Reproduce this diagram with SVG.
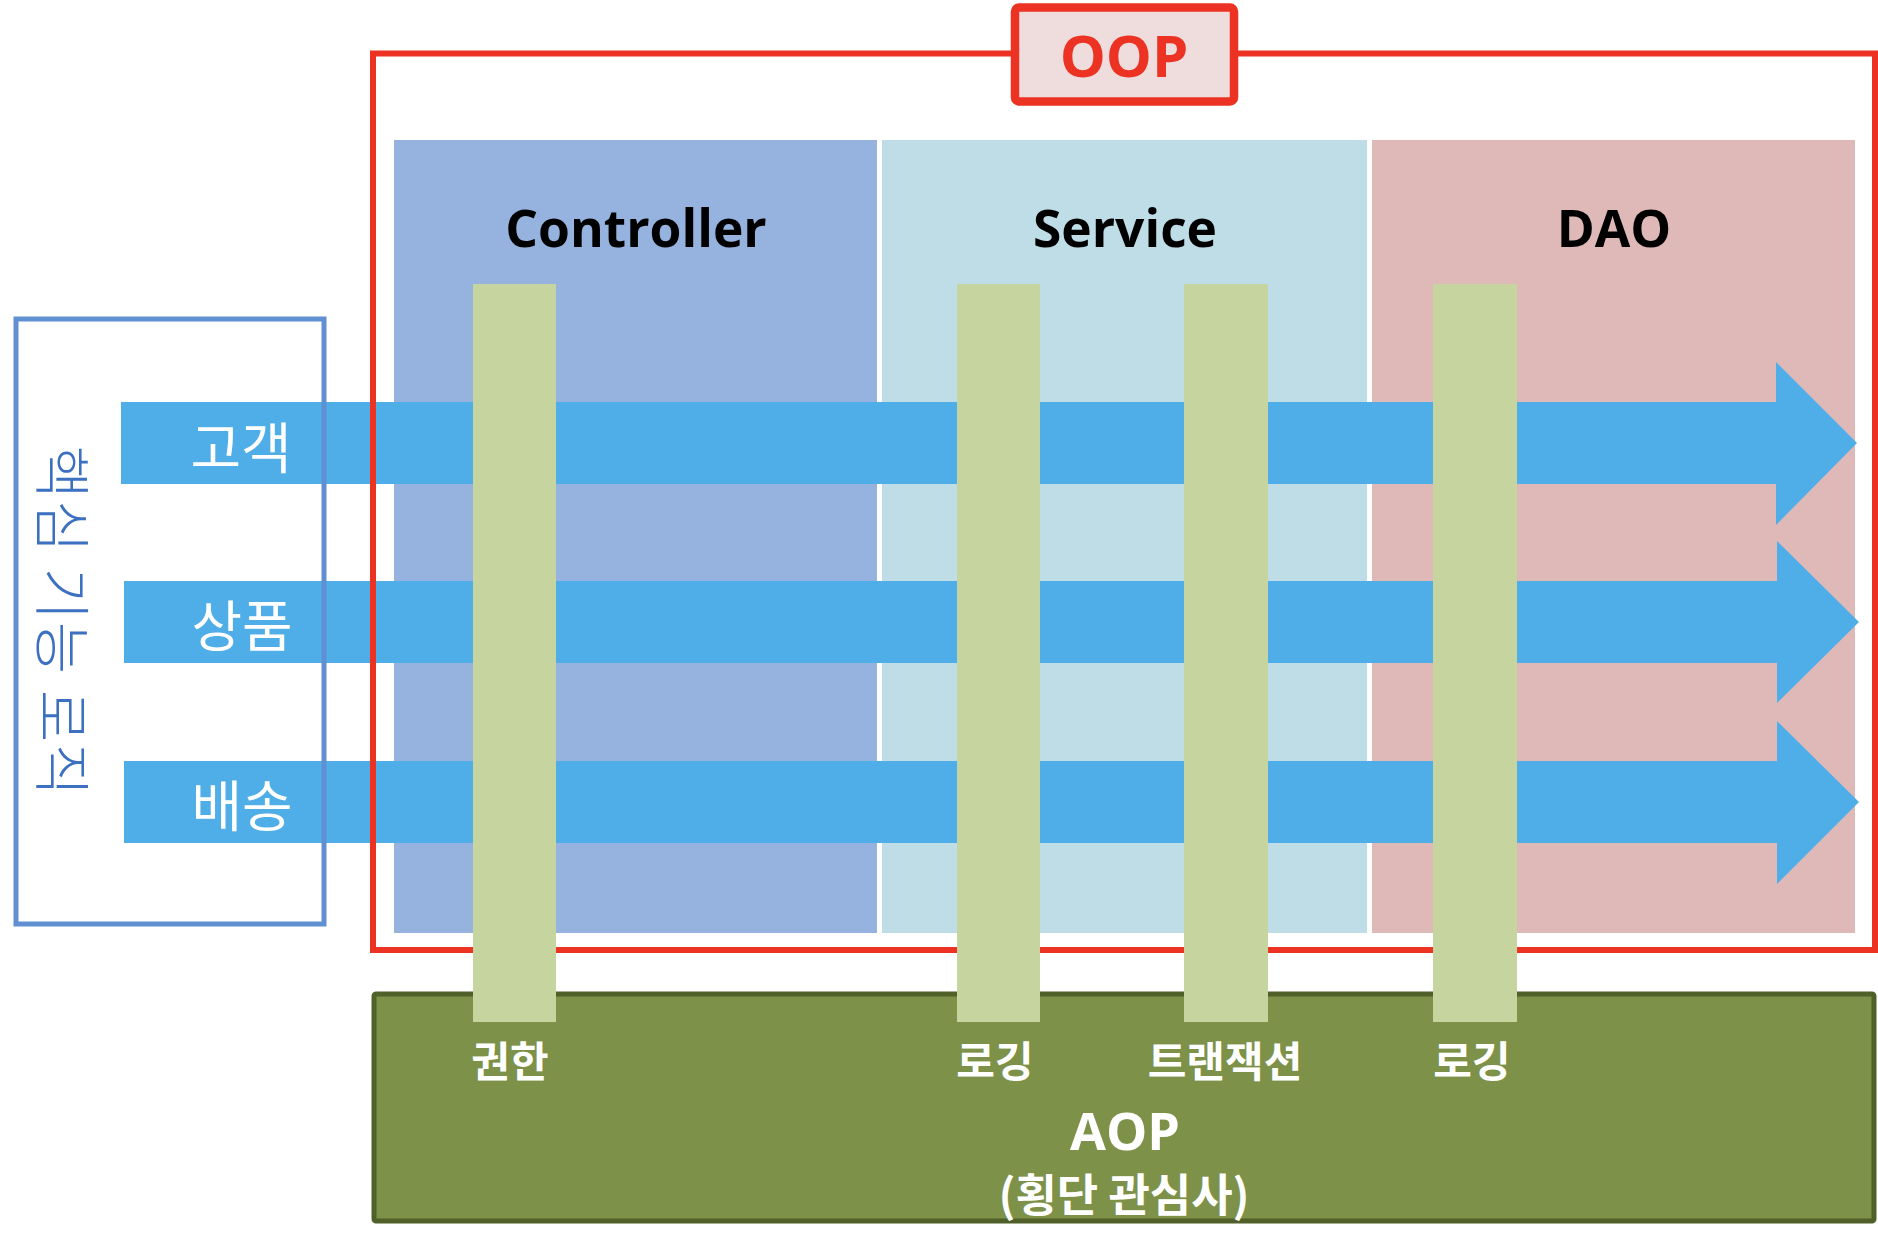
<svg xmlns="http://www.w3.org/2000/svg" width="1878" height="1238" viewBox="0 0 1878 1238">
<style>
.title{font-family:"Open Sans","Liberation Sans",sans-serif;font-weight:700;font-size:51.5px;fill:#000;text-anchor:middle}
.flowlbl{font-family:"Noto Sans CJK KR",sans-serif;font-weight:400;font-size:55px;fill:#fff;text-anchor:middle;dominant-baseline:central}
.barlbl{font-family:"Noto Sans CJK KR",sans-serif;font-weight:700;font-size:42px;fill:#fff;text-anchor:middle;dominant-baseline:central}
.bar{fill:#C6D5A0}
.flow{fill:#4FADE8}
</style>
<rect width="1878" height="1238" fill="#fff"/>
<g id="panel-controller"><rect x="394" y="140" width="483" height="793" fill="#95B3DE"/><text class="title" x="636" y="247">Controller</text></g>
<g id="panel-service"><rect x="882" y="140" width="485" height="793" fill="#BFDDE7"/><text class="title" x="1125" y="247">Service</text></g>
<g id="panel-dao"><rect x="1372" y="140" width="483" height="793" fill="#DFB9B8"/><text class="title" x="1614" y="247">DAO</text></g>
<g id="connectors">
<polygon class="flow" points="121,402 1776,402 1776,362 1857,443 1776,525 1776,484 121,484"/>
<polygon class="flow" points="124,581 1777,581 1777,541 1859,622 1777,703 1777,663 124,663"/>
<polygon class="flow" points="124,761 1777,761 1777,721 1859,802 1777,884 1777,843 124,843"/>
</g>
<g id="oop">
<rect x="373" y="53.5" width="1502" height="896.5" fill="none" stroke="#EC3323" stroke-width="6"/>
<rect x="1015" y="7.5" width="219" height="94" rx="4" fill="#EFDCDD" stroke="#EC3323" stroke-width="8.5"/>
<text x="1124" y="77" font-family="Open Sans, Liberation Sans, sans-serif" font-weight="700" font-size="58" fill="#EC3323" text-anchor="middle">OOP</text>
</g>
<g id="core-logic">
<rect x="16" y="319" width="308" height="605" fill="none" stroke="#6190D2" stroke-width="5"/>
<text transform="translate(66,621) rotate(90)" x="0" y="0" font-family="Noto Sans CJK KR, sans-serif" font-weight="300" font-size="57" fill="#3C70C0" text-anchor="middle" dominant-baseline="central" textLength="350" lengthAdjust="spacing">핵심 기능 로직</text>
</g>
<g id="flow-labels">
<text class="flowlbl" x="241" y="444">고객</text>
<text class="flowlbl" x="242" y="622">상품</text>
<text class="flowlbl" x="242" y="802">배송</text>
</g>
<g id="aop">
<rect x="374" y="994" width="1500" height="227" rx="2" fill="#7E9149" stroke="#4F6129" stroke-width="5"/>
<text x="1125" y="1150" font-family="Open Sans, Liberation Sans, sans-serif" font-weight="700" font-size="52" fill="#fff" text-anchor="middle">AOP</text>
<text class="barlbl" x="1124" y="1192" style="font-size:45px">(횡단 관심사)</text>
</g>
<g id="aspect-auth"><rect class="bar" x="473" y="284" width="83" height="738"/><text class="barlbl" x="510" y="1058">권한</text></g>
<g id="aspect-logging-1"><rect class="bar" x="957" y="284" width="83" height="738"/><text class="barlbl" x="995" y="1058">로깅</text></g>
<g id="aspect-transaction"><rect class="bar" x="1184" y="284" width="84" height="738"/><text class="barlbl" x="1225" y="1058">트랜잭션</text></g>
<g id="aspect-logging-2"><rect class="bar" x="1433" y="284" width="84" height="738"/><text class="barlbl" x="1472" y="1058">로깅</text></g>
</svg>
